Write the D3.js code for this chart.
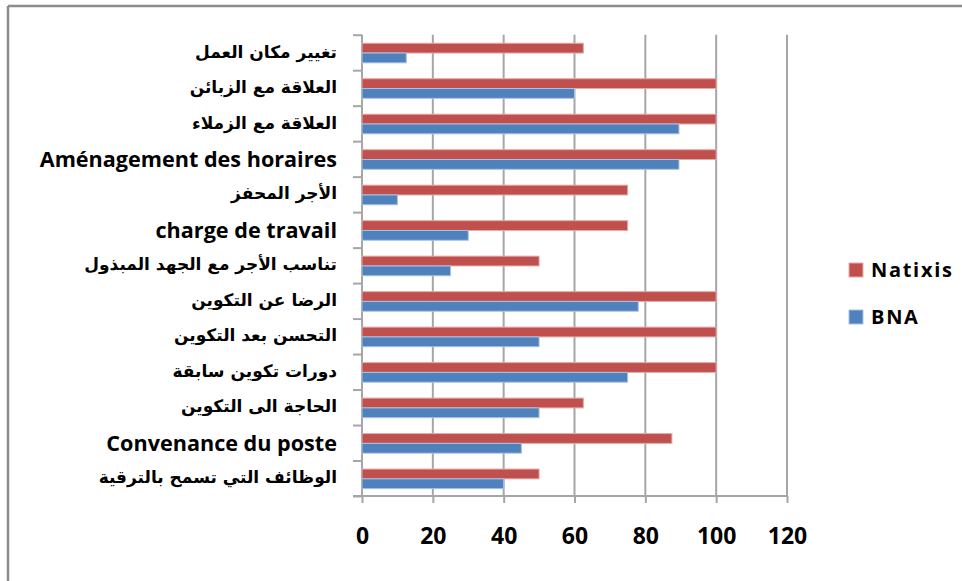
<!DOCTYPE html>
<html>
<head>
<meta charset="utf-8">
<script src="https://cdn.jsdelivr.net/npm/d3@7"></script>
<style>
  body { margin: 0; background: #fff; }
  svg { display: block; }
</style>
</head>
<body>
<div id="chart"></div>
<script>
const WIDTH = 962;
const HEIGHT = 581;
const PLOT = { LEFT: 362, RIGHT: 787, TOP: 34.7, BOTTOM: 496 };

// data, top to bottom as in the picture
const categories = [
    'تغيير مكان العمل',
    'العلاقة مع الزبائن',
    'العلاقة مع الزملاء',
    'Aménagement des horaires',
    'الأجر المحفز',
    'charge de travail',
    'تناسب الأجر مع الجهد المبذول',
    'الرضا عن التكوين',
    'التحسن بعد التكوين',
    'دورات تكوين سابقة',
    'الحاجة الى التكوين',
    'Convenance du poste',
    'الوظائف التي تسمح بالترقية'
];
const natixis = [62.5, 100, 100, 100, 75, 75, 50, 100, 100, 100, 62.5, 87.5, 50];
const bna = [12.5, 60, 89.5, 89.5, 10, 30, 25, 78, 50, 75, 50, 45, 40];
const seriesNames = ['Natixis', 'BNA'];
const xTicks = [0, 20, 40, 60, 80, 100, 120];

const COLORS = { Natixis: '#C0504D', BNA: '#4F81BD' };
const EDGES = { Natixis: '#e3aaa8', BNA: '#a9c2e2' };
const GRID = '#a6a6a6';

let svg = d3
    .select('#chart')
    .append('svg')
    .attr('width', WIDTH)
    .attr('height', HEIGHT);

// frame (only top and left edges are visible in the picture)
svg.append('line')
    .attr('x1', 8).attr('x2', WIDTH).attr('y1', 6).attr('y2', 6)
    .attr('stroke', '#8c8c8c').attr('stroke-width', 2.5);
svg.append('line')
    .attr('x1', 8).attr('x2', 8).attr('y1', 6).attr('y2', HEIGHT)
    .attr('stroke', '#8c8c8c').attr('stroke-width', 2.5);

// scales
let xScale = d3.scaleLinear().domain([0, 120]).range([PLOT.LEFT, PLOT.RIGHT]);
let yScale = d3.scaleBand().domain(categories).range([PLOT.TOP, PLOT.BOTTOM]);
let yEdges = d3.scaleLinear().domain([0, categories.length]).range([PLOT.TOP, PLOT.BOTTOM]);

// gridlines
svg.append('g')
    .selectAll('line')
    .data(xTicks.slice(1))
    .enter()
    .append('line')
    .attr('x1', d => xScale(d))
    .attr('x2', d => xScale(d))
    .attr('y1', PLOT.TOP)
    .attr('y2', PLOT.BOTTOM)
    .attr('stroke', GRID)
    .attr('stroke-width', 2);

// x axis
let xAxis = d3.axisBottom(xScale).tickValues(xTicks).tickSize(7).tickPadding(25);
let gx = svg.append('g')
    .attr('transform', `translate(0, ${PLOT.BOTTOM})`)
    .call(xAxis);
gx.select('.domain').attr('d', `M${PLOT.LEFT - 9},0H${PLOT.RIGHT}`);
gx.selectAll('line, path').attr('stroke', GRID).attr('stroke-width', 2);
gx.selectAll('text')
    .attr('fill', '#000')
    .style('font-family', '"Open Sans", sans-serif')
    .style('font-weight', 700)
    .style('font-size', '23px');

// y axis (category edges)
let yAxis = d3.axisLeft(yEdges).tickValues(d3.range(categories.length + 1)).tickSize(9).tickFormat('');
let gy = svg.append('g')
    .attr('transform', `translate(${PLOT.LEFT}, 0)`)
    .call(yAxis);
gy.select('.domain').attr('d', `M0,${PLOT.TOP}V${PLOT.BOTTOM}`);
gy.selectAll('line, path').attr('stroke', GRID).attr('stroke-width', 2);

// bars
const BAR_H = 9.8;
const series = [
    { name: 'Natixis', values: natixis, offset: 0 },
    { name: 'BNA', values: bna, offset: 1 }
];
const pairTop = (yScale.bandwidth() - 2 * BAR_H) / 2 + 0.6;

series.forEach(s => {
    svg.append('g')
        .selectAll('rect')
        .data(s.values)
        .enter()
        .append('rect')
        .attr('x', xScale(0))
        .attr('y', (d, i) => yScale(categories[i]) + pairTop + s.offset * BAR_H)
        .attr('width', d => xScale(d) - xScale(0))
        .attr('height', BAR_H)
        .attr('fill', COLORS[s.name])
        .attr('stroke', EDGES[s.name])
        .attr('stroke-width', 1);
});

// category labels
const isArabic = t => /[\u0600-\u06FF]/.test(t);
svg.append('g')
    .selectAll('text')
    .data(categories)
    .enter()
    .append('text')
    .attr('x', 337)
    .attr('y', d => yScale(d) + yScale.bandwidth() / 2)
    .attr('dy', d => isArabic(d) ? '0.3em' : '0.36em')
    .attr('text-anchor', 'end')
    .style('font-family', d => isArabic(d) ? '"DejaVu Sans", sans-serif' : '"Open Sans", sans-serif')
    .style('font-weight', 'bold')
    .style('font-size', d => isArabic(d) ? '17px' : '21.6px')
    .text(d => d);

// legend
let legend = svg.append('g')
    .selectAll('g')
    .data(seriesNames)
    .enter()
    .append('g')
    .attr('transform', (d, i) => `translate(849, ${263 + i * 47})`);

legend.append('rect')
    .attr('width', 14)
    .attr('height', 14)
    .attr('fill', d => COLORS[d])
    .attr('stroke', d => EDGES[d])
    .attr('stroke-width', 1);

legend.append('text')
    .attr('x', 22)
    .attr('y', 14)
    .style('font-family', '"Open Sans", sans-serif')
    .style('font-weight', 700)
    .style('font-size', '20px')
    .style('letter-spacing', '1.7px')
    .text(d => d);
</script>
</body>
</html>
